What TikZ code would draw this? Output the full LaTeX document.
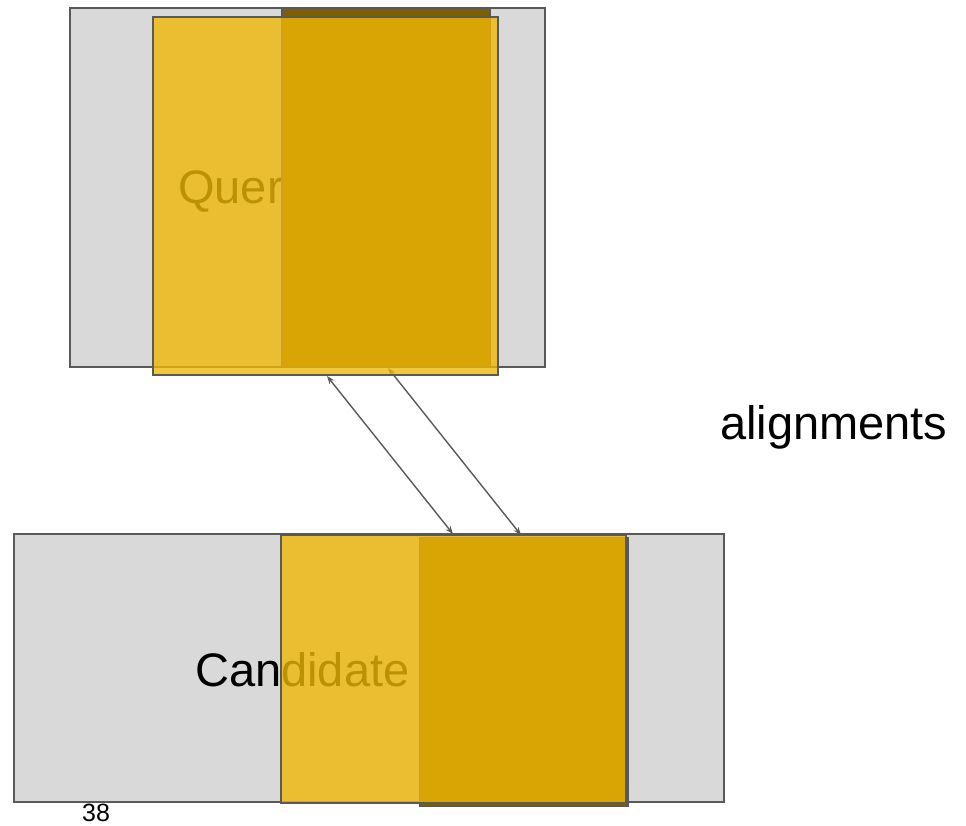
\documentclass[tikz,border=0pt]{standalone}
\usepackage{fontspec}
\setmainfont{Liberation Sans}
\usetikzlibrary{arrows.meta}
\definecolor{boxgray}{RGB}{217,217,217}
\definecolor{edgegray}{RGB}{89,89,89}
\definecolor{goldfill}{RGB}{240,184,6}
\definecolor{darkgold}{RGB}{127,96,0}
\tikzset{
  seq/.style={draw=edgegray, line width=1.5pt, fill=boxgray, anchor=north west,
    inner sep=0pt, outer sep=0pt},
  matchcore/.style={draw=edgegray, line width=1.5pt, fill=darkgold, anchor=north west,
    inner sep=0pt, outer sep=0pt},
  window/.style={draw=edgegray, line width=1.5pt, fill=goldfill, fill opacity=0.79,
    draw opacity=1, anchor=north west, inner sep=0pt, outer sep=0pt},
  bigtext/.style={font=\fontsize{47}{56}\selectfont, inner sep=0pt, anchor=base west},
  link/.style={draw=edgegray, line width=1.4pt,
    {Stealth[length=8pt,width=6pt]}-{Stealth[length=8pt,width=6pt]}}
}
\begin{document}
\begin{tikzpicture}[x=1pt,y=-1pt]
\useasboundingbox (0,0) rectangle (966,825);

% candidate sequence with its window
\node[seq, minimum width=710pt, minimum height=268pt] (cand) at (14,534) {};
\node[bigtext] (candtext) at (195,686) {Candidate};
\node[matchcore, minimum width=208pt, minimum height=268pt] (candcore) at (420,538) {};
\node[window, minimum width=345pt, minimum height=268pt] (candwin) at (281,535) {};

% query sequence
\node[seq, minimum width=475pt, minimum height=359pt] (query) at (70,8) {};
\node[bigtext] (querytext) at (178,203) {Query};
\node[matchcore, minimum width=208pt, minimum height=359pt] (querycore) at (282,8) {};

% alignment links
\coordinate (qa) at (327,376);
\coordinate (ca) at (453,534);
\coordinate (qb) at (388,368);
\coordinate (cb) at (521,535);
\draw[link] (qa) -- (ca);
\draw[link] (qb) -- (cb);

% query window drawn over the links
\node[window, minimum width=345pt, minimum height=358pt] (querywin) at (153,17) {};

\node[bigtext] (label) at (720,439) {alignments};
\node[font=\fontsize{25}{28}\selectfont, inner sep=0pt, anchor=base west] (page) at (82,821) {38};
\end{tikzpicture}
\end{document}
